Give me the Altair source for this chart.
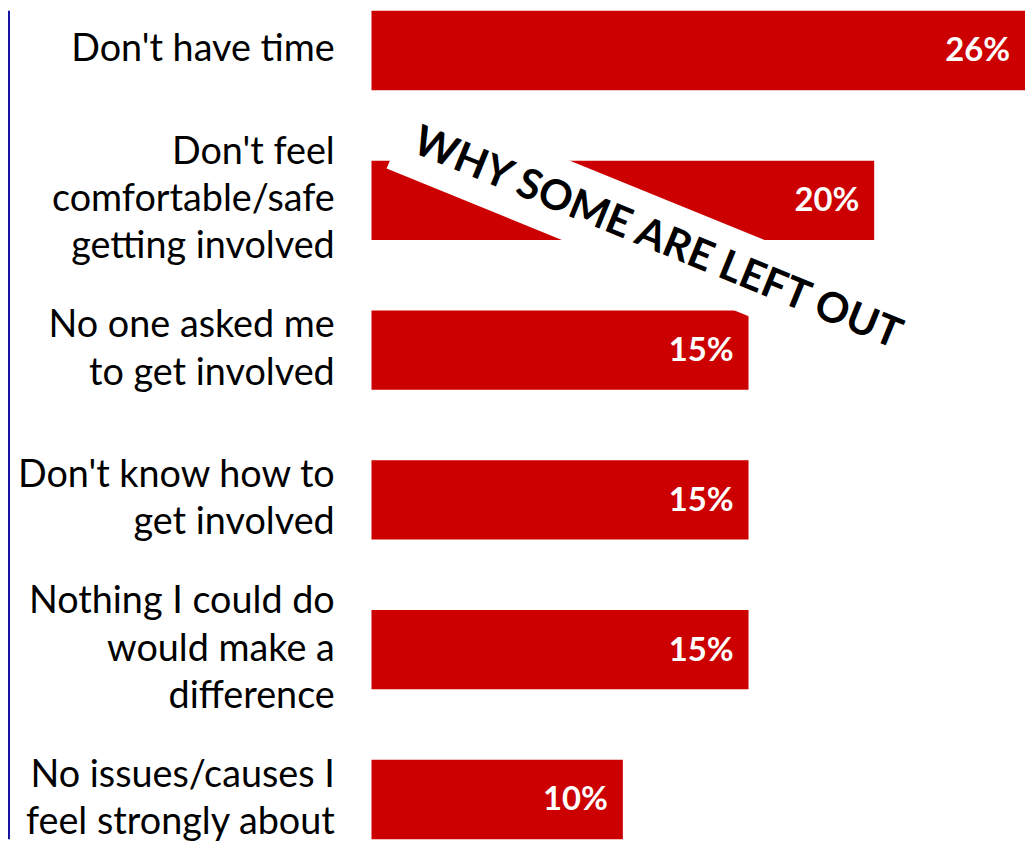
import altair as alt
import pandas as pd

categories = [
    "Don't have time",
    "Don't feel\ncomfortable/safe\ngetting involved",
    "No one asked me\nto get involved",
    "Don't know how to\nget involved",
    "Nothing I could do\nwould make a\ndifference",
    "No issues/causes I\u00a0\nfeel strongly about\u00a0",
]
values = [26, 20, 15, 15, 15, 10]
value_labels = ["26%", "20%", "15%", "15%", "15%", "10%"]
banner_text = ["WHY SOME ARE LEFT OUT"]

RED = "#CC0000"
W, H = 658, 834
LINE_H = 47.5

df = pd.DataFrame({"cat": categories, "val": values, "lab": value_labels})

# one row per label line, with its offset from the bar centre
rows = []
for c in categories:
    parts = c.split("\n")
    n = len(parts)
    for k, p in enumerate(parts):
        rows.append({"cat": c, "line": p, "off": (k - (n - 1) / 2) * LINE_H})
lines_df = pd.DataFrame(rows)

y_enc = alt.Y("cat:N", sort=categories, axis=None,
              scale=alt.Scale(domain=categories, paddingInner=0.47, paddingOuter=0))
x_enc = alt.X("val:Q", axis=None, scale=alt.Scale(domain=[0, 26], nice=False, zero=True))

base = alt.Chart(df)

bars = base.mark_bar(color=RED, cornerRadius=0).encode(x=x_enc, y=y_enc)

pct = base.mark_text(align="right", baseline="middle", dx=-15, dy=1,
                     font="Lato", fontWeight="bold", fontSize=33,
                     color="white").encode(x=x_enc, y=y_enc, text="lab:N")

label_layers = []
for off in sorted(lines_df["off"].unique()):
    label_layers.append(
        alt.Chart(lines_df).transform_filter(
            f"abs(datum.off - ({off})) < 0.01"
        ).mark_text(align="right", baseline="middle", dy=float(off),
                    font="Lato", fontSize=38, color="#000000").encode(
            x=alt.value(-37), y=y_enc, text="line:N")
    )

banner_df = pd.DataFrame({"t": banner_text})
banner = alt.Chart(banner_df).mark_rule(color="white", strokeWidth=77,
                                        strokeCap="butt").encode(
    x=alt.value(29.8), y=alt.value(123.1),
    x2=alt.value(546.5), y2=alt.value(333.9))

banner_txt = alt.Chart(banner_df).mark_text(
    align="center", baseline="alphabetic", angle=22.2,
    font="Lato", fontWeight="bold", fontSize=42, color="black").encode(
    x=alt.value(283.0), y=alt.value(241.0), text="t:N")

border = alt.Chart(banner_df).mark_rule(color="#1414A0", strokeWidth=2).encode(
    x=alt.value(-365), y=alt.value(0), y2=alt.value(H))

chart = alt.layer(bars, pct, *label_layers, banner, banner_txt, border).properties(
    width=W, height=H,
    padding={"left": 366, "top": 0, "right": 0, "bottom": 0},
    autosize=alt.AutoSizeParams(type="none"),
    background="white",
).configure_view(stroke=None)

chart.save("out.html", embed_options={"renderer": "svg", "actions": False})
